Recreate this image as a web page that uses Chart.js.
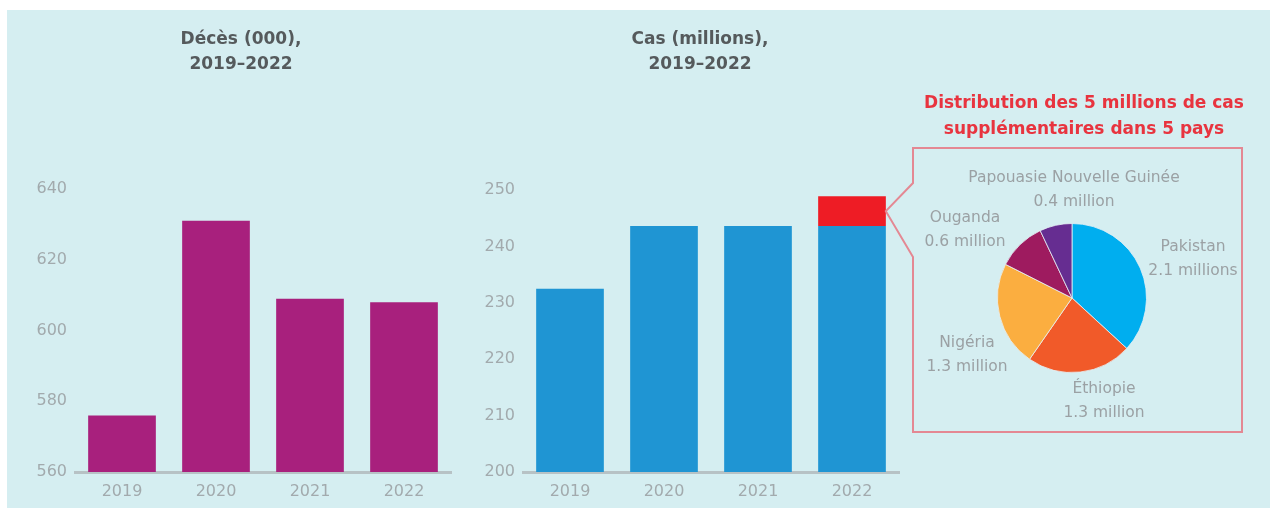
<!DOCTYPE html>
<html><head><meta charset="utf-8">
<script src="https://cdn.jsdelivr.net/npm/chart.js@4"></script>
<style>
html,body{margin:0;padding:0;background:#fff;width:1278px;height:510px;overflow:hidden}
#panel{position:absolute;left:7px;top:10px;width:1263px;height:498px;background:#d5eef1}
canvas{position:absolute}
</style></head>
<body>
<div id="panel"></div>
<canvas id="deaths" width="460" height="510" style="left:0;top:0"></canvas>
<canvas id="cases" width="818" height="510" style="left:460px;top:0"></canvas>
<canvas id="pie" width="370" height="300" style="left:900px;top:140px"></canvas>
<script>
// ---- data ----
const years = ['2019', '2020', '2021', '2022'];
const deaths = [576, 631, 609, 608];
const deathTicks = [560, 580, 600, 620, 640];
const casesBase = [232.5, 243.6, 243.6, 243.6];
const casesExtra = [null, null, null, 5.3];
const caseTicks = [200, 210, 220, 230, 240, 250];
const countries = ['Pakistan', 'Éthiopie', 'Nigéria', 'Ouganda', 'Papouasie Nouvelle Guinée'];
const extraCases = [2.1, 1.3, 1.3, 0.6, 0.4];
const extraLabels = ['2.1 millions', '1.3 million', '1.3 million', '0.6 million', '0.4 million'];
const deathTitle = ['Décès (000),', '2019–2022'];
const caseTitle = ['Cas (millions),', '2019–2022'];
const pieTitle = ['Distribution des 5 millions de cas', 'supplémentaires dans 5 pays'];

// ---- styles / layout ----
const FONT = '"DejaVu Sans", sans-serif';
const tickColor = '#a2aaad';
const titleColor = '#555a5c';
const axisColor = '#b7c2c5';
const pieColors = ['#00aeef', '#f15a29', '#fbae40', '#9e1b5f', '#662d91'];
const labelOffsets = [[121, -39], [32, 103], [-105, 57], [-107, -68], [2, -108]];
const callout = {left: 913, top: 148, right: 1242, bottom: 432, notchTop: 183, notchBottom: 257};

function titlePlugin(lines, pageCx, y0, dy, color, size) {
  return {
    id: 'panelTitle',
    afterDraw(chart) {
      const ctx = chart.ctx;
      const off = chart.canvas.offsetLeft;
      ctx.save();
      ctx.font = 'bold ' + size + 'px ' + FONT;
      ctx.fillStyle = color;
      ctx.textAlign = 'center';
      ctx.textBaseline = 'middle';
      lines.forEach((l, i) => ctx.fillText(l, pageCx - off, y0 + i * dy));
      ctx.restore();
    }
  };
}

function barOptions(min, max, ticks, yWidth, padRight, padTop) {
  return {
    responsive: false, animation: false,
    layout: {padding: {left: 0, right: padRight, top: padTop, bottom: 0}},
    plugins: {legend: {display: false}, tooltip: {enabled: false}, title: {display: false}},
    scales: {
      x: {
        stacked: true,
        grid: {display: false, drawTicks: false},
        border: {display: true, color: axisColor, width: 3},
        ticks: {color: tickColor, font: {family: FONT, size: 16}, padding: 10},
        afterFit: s => { s.height = 38; }
      },
      y: {
        stacked: true, min: min, max: max,
        afterBuildTicks: s => { s.ticks = ticks.map(v => ({value: v})); },
        grid: {display: false, drawTicks: false},
        border: {display: false},
        ticks: {color: tickColor, font: {family: FONT, size: 16}, padding: 8},
        afterFit: s => { s.width = yWidth; }
      }
    }
  };
}

new Chart(document.getElementById('deaths'), {
  type: 'bar',
  data: {labels: years, datasets: [{data: deaths, backgroundColor: '#a8207d', barPercentage: 0.72, categoryPercentage: 1}]},
  options: barOptions(560, 640, deathTicks, 75, 9, 189),
  plugins: [titlePlugin(deathTitle, 241, 40, 25, titleColor, 17)]
});

const calloutPlugin = {
  id: 'callout',
  afterDraw(chart) {
    const ctx = chart.ctx;
    const off = chart.canvas.offsetLeft;
    const bar = chart.getDatasetMeta(1).data[3];
    const ax = bar.x + bar.width / 2, ay = (bar.y + bar.base) / 2;
    const L = callout.left - off, R = callout.right - off;
    ctx.save();
    ctx.strokeStyle = '#e48893';
    ctx.lineWidth = 2;
    ctx.beginPath();
    ctx.moveTo(L, callout.notchTop);
    ctx.lineTo(L, callout.top);
    ctx.lineTo(R, callout.top);
    ctx.lineTo(R, callout.bottom);
    ctx.lineTo(L, callout.bottom);
    ctx.lineTo(L, callout.notchBottom);
    ctx.lineTo(ax, ay);
    ctx.closePath();
    ctx.stroke();
    ctx.font = 'bold 17px ' + FONT;
    ctx.fillStyle = '#e8343f';
    ctx.textAlign = 'center';
    ctx.textBaseline = 'middle';
    pieTitle.forEach((l, i) => ctx.fillText(l, 1084 - off, 104 + i * 26));
    ctx.restore();
  }
};

new Chart(document.getElementById('cases'), {
  type: 'bar',
  data: {labels: years, datasets: [
    {data: casesBase, backgroundColor: '#1f95d3', barPercentage: 0.72, categoryPercentage: 1},
    {data: casesExtra, backgroundColor: '#ee1c25', barPercentage: 0.72, categoryPercentage: 1}
  ]},
  options: barOptions(200, 250, caseTicks, 63, 379, 190),
  plugins: [titlePlugin(caseTitle, 700, 40, 25, titleColor, 17), calloutPlugin]
});

const pieLabels = {
  id: 'pieLabels',
  afterDraw(chart) {
    const ctx = chart.ctx;
    ctx.save();
    ctx.font = '15.5px ' + FONT;
    ctx.fillStyle = '#9ba1a4';
    ctx.textAlign = 'center';
    ctx.textBaseline = 'middle';
    chart.getDatasetMeta(0).data.forEach((arc, i) => {
      const cx = arc.x + labelOffsets[i][0], cy = arc.y + labelOffsets[i][1];
      ctx.fillText(countries[i], cx, cy - 12);
      ctx.fillText(extraLabels[i], cx, cy + 12);
    });
    ctx.restore();
  }
};

new Chart(document.getElementById('pie'), {
  type: 'pie',
  data: {labels: countries, datasets: [{data: extraCases, backgroundColor: pieColors, borderColor: 'rgba(230,240,245,0.8)', borderWidth: 1}]},
  options: {
    responsive: false, animation: false,
    layout: {padding: {left: 97, right: 123, top: 83, bottom: 67}},
    plugins: {legend: {display: false}, tooltip: {enabled: false}}
  },
  plugins: [pieLabels]
});
</script>
</body></html>
